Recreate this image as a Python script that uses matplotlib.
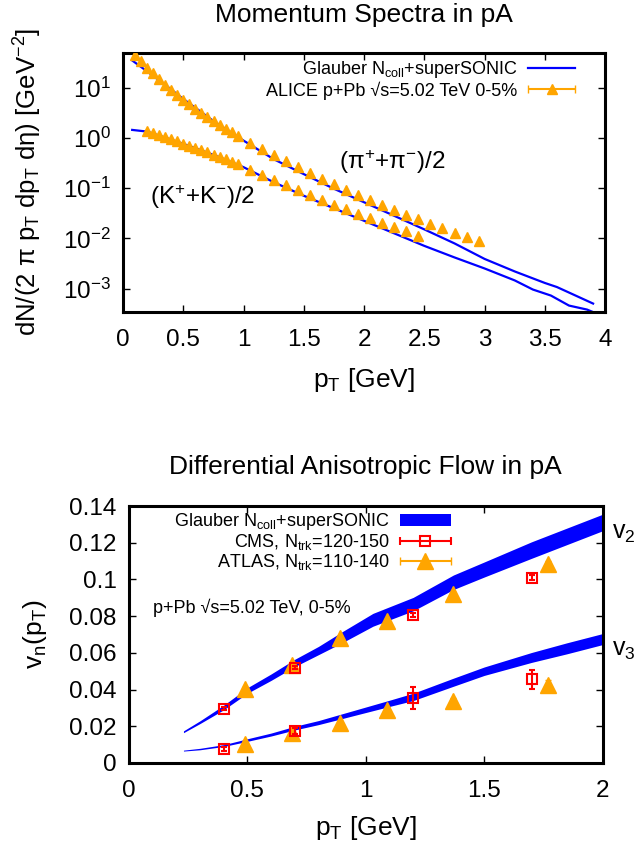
import numpy as np
import matplotlib
matplotlib.use("Agg")
import matplotlib.pyplot as plt
from matplotlib.ticker import FuncFormatter, FixedLocator, NullLocator
from matplotlib.container import ErrorbarContainer
from matplotlib.legend_handler import HandlerErrorbar

plt.rcParams['font.family'] = ['Liberation Sans', 'DejaVu Sans']
plt.rcParams['mathtext.fontset'] = 'custom'
plt.rcParams['mathtext.rm'] = 'Liberation Sans'
plt.rcParams['mathtext.it'] = 'Liberation Sans'
plt.rcParams['mathtext.bf'] = 'Liberation Sans:bold'
plt.rcParams['mathtext.default'] = 'regular'

# ---- momentum spectra (ALICE p+Pb 0-5%) ----
pi_pt = [0.10, 0.15, 0.20, 0.25, 0.30, 0.35, 0.40, 0.45, 0.50, 0.55, 0.60, 0.65,
         0.70, 0.75, 0.80, 0.85, 0.90, 0.95, 1.05, 1.15, 1.25, 1.35, 1.45, 1.55,
         1.65, 1.75, 1.85, 1.95, 2.05, 2.15, 2.25, 2.35, 2.45, 2.55, 2.65, 2.75,
         2.85, 2.95]
pi_data = [45, 34, 25.5, 19.5, 15.1, 11.7, 9.2, 7.3, 5.9, 4.7, 3.85, 3.14,
           2.59, 2.15, 1.80, 1.52, 1.30, 1.11, 0.79, 0.60, 0.457, 0.347, 0.267, 0.202,
           0.156, 0.120, 0.094, 0.0724, 0.0575, 0.0457, 0.0375, 0.0298, 0.0240, 0.0197, 0.0161, 0.0130,
           0.0106, 0.0087]
k_pt = [0.20, 0.25, 0.30, 0.35, 0.40, 0.45, 0.50, 0.55, 0.60, 0.65, 0.70, 0.75,
        0.80, 0.85, 0.90, 0.95, 1.05, 1.15, 1.25, 1.35, 1.45, 1.55, 1.65, 1.75,
        1.85, 1.95, 2.05, 2.15, 2.25, 2.35, 2.45]
k_data = [1.38, 1.26, 1.15, 1.04, 0.946, 0.859, 0.778, 0.705, 0.637, 0.575, 0.519, 0.468,
          0.421, 0.378, 0.340, 0.305, 0.229, 0.182, 0.145, 0.115, 0.0912, 0.0724, 0.0594, 0.0472,
          0.0380, 0.0302, 0.0255, 0.0202, 0.0168, 0.0138, 0.0110]

# superSONIC curves
pi_th_pt = [0.075, 0.2, 0.35, 0.5, 0.75, 1.0, 1.25, 1.5, 1.75, 2.0, 2.25, 2.5,
            2.75, 3.0, 3.25, 3.5, 3.6, 3.9]
pi_th = [35.5, 21.4, 11.5, 6.03, 2.19, 0.891, 0.380, 0.191, 0.0977, 0.0525, 0.0282, 0.0151,
         0.00794, 0.00389, 0.00219, 0.00129, 0.00107, 0.000501]
k_th_pt = [0.075, 0.2, 0.4, 0.6, 0.8, 1.0, 1.25, 1.5, 1.75, 2.0, 2.25, 2.5,
           2.75, 3.0, 3.25, 3.4, 3.55, 3.7, 3.85, 3.95]
k_th = [1.46, 1.35, 0.933, 0.631, 0.417, 0.263, 0.132, 0.0708, 0.0398, 0.0224, 0.0126, 0.00708,
        0.00417, 0.00251, 0.00145, 0.000955, 0.000724, 0.000457, 0.000380, 0.000302]

# ---- differential flow ----
v2_band_pt = [0.23, 0.3, 0.4, 0.5, 0.6, 0.7, 0.8, 0.9, 1.03, 1.2, 1.37, 1.5, 1.7, 1.85, 2.0]
v2_lo = [0.0165, 0.0215, 0.029, 0.038, 0.045, 0.0525, 0.059, 0.0655, 0.0745, 0.0829, 0.0945,
         0.1013, 0.1115, 0.119, 0.1265]
v2_hi = [0.0175, 0.023, 0.0315, 0.041, 0.0485, 0.0565, 0.0635, 0.0715, 0.0815, 0.0902, 0.1024,
         0.1095, 0.1205, 0.128, 0.1355]
v3_band_pt = [0.23, 0.3, 0.4, 0.5, 0.6, 0.7, 0.8, 0.9, 1.0, 1.1, 1.2, 1.37, 1.5, 1.7, 1.85, 2.0]
v3_lo = [0.0065, 0.0072, 0.009, 0.0118, 0.0147, 0.018, 0.0209, 0.0242, 0.0275, 0.0308, 0.034,
         0.0418, 0.0477, 0.0548, 0.0595, 0.0645]
v3_hi = [0.0070, 0.0080, 0.010, 0.0132, 0.0163, 0.020, 0.0231, 0.0268, 0.0305, 0.0342, 0.038,
         0.0462, 0.0523, 0.0602, 0.0655, 0.0705]

cms_pt = [0.4, 0.7, 1.2, 1.7]
cms_v2 = [0.0296, 0.052, 0.0805, 0.101]
cms_v2_err = [0.001, 0.001, 0.0012, 0.0012]
cms_v3 = [0.0075, 0.0175, 0.0356, 0.0455]
cms_v3_err = [0.001, 0.0015, 0.006, 0.005]

atlas_pt = [0.49, 0.69, 0.89, 1.09, 1.37, 1.77]
atlas_v2 = [0.0402, 0.0533, 0.0682, 0.0775, 0.092, 0.1084]
atlas_v2_err = [0.001, 0.001, 0.001, 0.0012, 0.0012, 0.0015]
atlas_v3 = [0.0105, 0.0165, 0.0218, 0.029, 0.0336, 0.0424]
atlas_v3_err = [0.001, 0.001, 0.001, 0.0015, 0.002, 0.003]

ORANGE = '#ffa500'
BLUE = '#0000ff'
RED = '#ff0000'

fig = plt.figure(figsize=(6.38, 8.49), dpi=100)


def style_axes(ax):
    for s in ax.spines.values():
        s.set_linewidth(2.2)
    ax.tick_params(direction='in', top=True, right=True, length=5, width=1,
                   labelsize=17.5, pad=9)


# ---------------- top panel ----------------
ax1 = fig.add_axes([0.193, 0.6325, 0.7555, 0.3051])
ax1.set_yscale('log')
ax1.plot(pi_th_pt, pi_th, color=BLUE, lw=1.6, label='Glauber N$_{coll}$+superSONIC')
ax1.plot(k_th_pt, k_th, color=BLUE, lw=1.6)
ax1.plot(pi_pt, pi_data, ls='none', marker='^', color=ORANGE, ms=7.5, zorder=3)
ax1.plot(k_pt, k_data, ls='none', marker='^', color=ORANGE, ms=7.5, zorder=3)
alice_key = ax1.errorbar([np.nan], [np.nan], xerr=[1.0], fmt='^', color=ORANGE, ms=7.5,
                         capsize=3, elinewidth=1.5, label='ALICE p+Pb \u221as=5.02 TeV 0-5%')
ax1.set_xlim(0, 4)
ax1.set_ylim(3.4e-4, 50)
ax1.xaxis.set_major_locator(FixedLocator([0, 0.5, 1, 1.5, 2, 2.5, 3, 3.5, 4]))
ax1.xaxis.set_major_formatter(FuncFormatter(lambda v, _: '%g' % v))
ax1.yaxis.set_major_locator(FixedLocator([1e-3, 1e-2, 1e-1, 1e0, 1e1]))
ax1.yaxis.set_minor_locator(NullLocator())
ax1.yaxis.set_major_formatter(FuncFormatter(lambda v, _: r'$10^{%d}$' % round(np.log10(v))))
style_axes(ax1)
ax1.tick_params(axis='x', pad=12)
ax1.legend(loc='upper right', bbox_to_anchor=(0.938, 0.975), frameon=False, markerfirst=False,
           fontsize=13, handlelength=2.6, handletextpad=0.6, labelspacing=0.05,
           borderaxespad=0, borderpad=0,
           handler_map={ErrorbarContainer: HandlerErrorbar(xerr_size=1.3)})
ax1.text(1.79, 0.33, r'($\pi^{+}$+$\pi^{-}$)/2', fontsize=17.5, va='center', ha='left')
ax1.text(0.22, 0.066, r'(K$^{+}$+K$^{-}$)/2', fontsize=17.5, va='center', ha='left')

fig.text(0.571, 0.982, 'Momentum Spectra in pA', ha='center', va='center', fontsize=19)
fig.text(0.571, 0.553, r'p$_T$ [GeV]', ha='center', va='center', fontsize=19)
fig.text(0.044, 0.7856, r'dN/(2 $\pi$ p$_T$ dp$_T$ d$\eta$) [GeV$^{-2}$]', rotation=90,
         ha='center', va='center', fontsize=18.5)

# ---------------- bottom panel ----------------
ax2 = fig.add_axes([0.2022, 0.1013, 0.7423, 0.3027])
ax2.fill_between(v2_band_pt, v2_lo, v2_hi, color=BLUE, lw=0, label='Glauber N$_{coll}$+superSONIC')
ax2.fill_between(v3_band_pt, v3_lo, v3_hi, color=BLUE, lw=0)
ax2.errorbar(cms_pt, cms_v2, yerr=cms_v2_err, fmt='s', ms=6.5, mfc='none', mec=RED, mew=1.5,
             ecolor=RED, elinewidth=1.5, capsize=2.5, zorder=4)
ax2.errorbar(cms_pt, cms_v3, yerr=cms_v3_err, fmt='s', ms=6.5, mfc='none', mec=RED, mew=1.5,
             ecolor=RED, elinewidth=1.5, capsize=2.5, zorder=4)
ax2.errorbar(atlas_pt, atlas_v2, yerr=atlas_v2_err, fmt='^', ms=12, color=ORANGE,
             elinewidth=1.5, capsize=2.5, zorder=3)
ax2.errorbar(atlas_pt, atlas_v3, yerr=atlas_v3_err, fmt='^', ms=12, color=ORANGE,
             elinewidth=1.5, capsize=2.5, zorder=3)
cms_key = ax2.errorbar([np.nan], [np.nan], xerr=[1.0], fmt='s', ms=6.5, mfc='none', mec=RED,
                       mew=1.5, ecolor=RED, elinewidth=1.5, capsize=3,
                       label='CMS, N$_{trk}$=120-150')
atlas_key = ax2.errorbar([np.nan], [np.nan], xerr=[1.0], fmt='^', ms=12, color=ORANGE,
                         elinewidth=1.5, capsize=3, label='ATLAS, N$_{trk}$=110-140')
ax2.set_xlim(0, 2)
ax2.set_ylim(0, 0.14)
ax2.xaxis.set_major_locator(FixedLocator([0, 0.5, 1, 1.5, 2]))
ax2.xaxis.set_major_formatter(FuncFormatter(lambda v, _: '%g' % v))
ax2.yaxis.set_major_locator(FixedLocator([0, 0.02, 0.04, 0.06, 0.08, 0.1, 0.12, 0.14]))
ax2.yaxis.set_major_formatter(FuncFormatter(lambda v, _: '%g' % round(v, 2)))
style_axes(ax2)
ax2.tick_params(axis='x', pad=12)
ax2.legend(loc='upper right', bbox_to_anchor=(0.679, 0.98), frameon=False, markerfirst=False,
           fontsize=13, handlelength=2.8, handletextpad=0.6, labelspacing=0.0,
           borderaxespad=0, borderpad=0,
           handler_map={ErrorbarContainer: HandlerErrorbar(xerr_size=1.4)})
ax2.text(0.1, 0.0845, 'p+Pb \u221as=5.02 TeV, 0-5%', fontsize=13, va='center', ha='left')
ax2.text(2.04, 0.1253, r'v$_2$', fontsize=18, va='center', ha='left', clip_on=False)
ax2.text(2.04, 0.0615, r'v$_3$', fontsize=18, va='center', ha='left', clip_on=False)

fig.text(0.573, 0.45, 'Differential Anisotropic Flow in pA', ha='center', va='center', fontsize=19)
fig.text(0.573, 0.0247, r'p$_T$ [GeV]', ha='center', va='center', fontsize=19)
fig.text(0.055, 0.2532, r'v$_n$(p$_T$)', rotation=90, ha='center', va='center', fontsize=19)

fig.savefig('out.png', dpi=100)
